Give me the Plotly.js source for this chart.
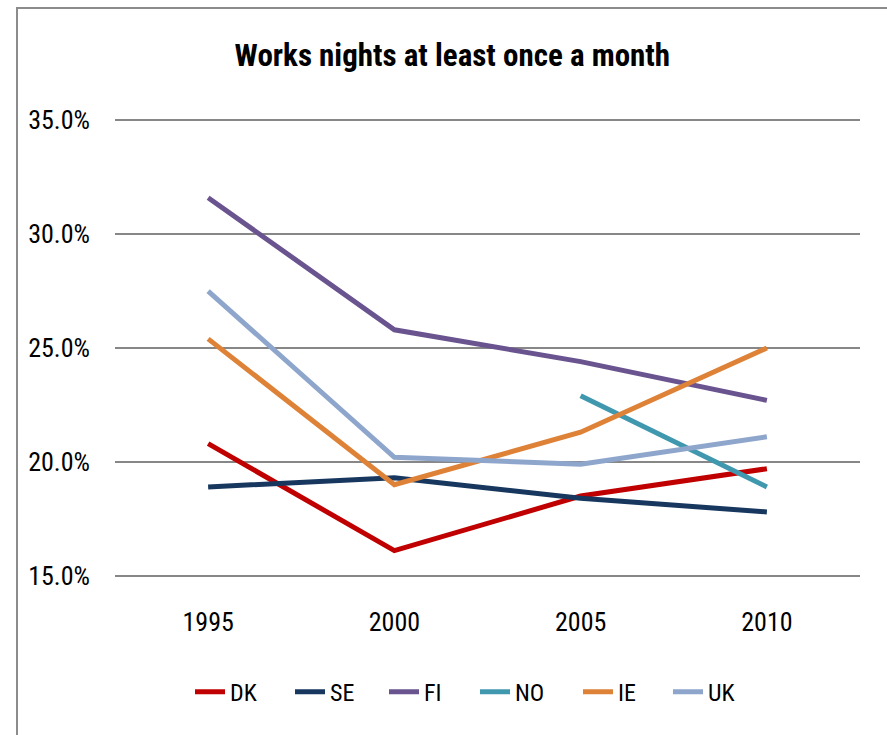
<!DOCTYPE html>
<html>
<head>
<meta charset="utf-8">
<script src="https://cdn.plot.ly/plotly-3.0.1.min.js"></script>
<style>
  html, body { margin: 0; padding: 0; background: #ffffff; }
  #chart { width: 887px; height: 735px; }
</style>
</head>
<body>
<div id="chart"></div>
<script>
// Survey years
const years = ['1995', '2000', '2005', '2010'];

// Share of workers working nights at least once a month (%)
const dk = [20.8, 16.1, 18.5, 19.7];
const se = [18.9, 19.3, 18.4, 17.8];
const fi = [31.6, 25.8, 24.4, 22.7];
const no = [null, null, 22.9, 18.9];
const ie = [25.4, 19.0, 21.3, 25.0];
const uk = [27.5, 20.2, 19.9, 21.1];

const countries = ['DK', 'SE', 'FI', 'NO', 'IE', 'UK'];
const colors = ['#C00000', '#17375E', '#6A548F', '#4098AF', '#DE8238', '#8EA6CC'];
const values = [dk, se, fi, no, ie, uk];
// room reserved for each legend label
const legendWidths = [55, 49, 46, 58, 45, 30];

const FONT = '"Roboto Condensed", "Liberation Sans Narrow", "Arial Narrow", "Liberation Sans", sans-serif';

const traces = countries.map((c, i) => ({
  type: 'scatter',
  mode: 'lines',
  name: c,
  x: years,
  y: values[i].map(v => v === null ? null : v / 100),
  connectgaps: false,
  line: { color: colors[i], width: 5 },
  legendwidth: legendWidths[i],
  hoverinfo: 'name+y'
}));

const layout = {
  width: 887,
  height: 735,
  paper_bgcolor: '#ffffff',
  plot_bgcolor: '#ffffff',
  margin: { l: 115, r: 27, t: 118, b: 157 },
  title: {
    text: '<b>Works nights at least once a month</b>',
    font: { family: FONT, size: 31, color: '#000000' },
    x: 0.51,
    xanchor: 'center',
    y: 0.925,
    yanchor: 'middle'
  },
  xaxis: {
    type: 'category',
    range: [-0.5, 3.5],
    showgrid: false,
    zeroline: false,
    showline: false,
    ticks: '',
    ticklabelstandoff: 26,
    tickfont: { family: FONT, size: 26, color: '#000000' }
  },
  yaxis: {
    range: [0.149, 0.351],
    dtick: 0.05,
    tick0: 0.15,
    tickformat: '.1%',
    showgrid: true,
    gridcolor: '#878787',
    gridwidth: 2,
    zeroline: false,
    showline: false,
    ticks: '',
    ticklabelstandoff: 24,
    tickfont: { family: FONT, size: 26, color: '#000000' }
  },
  legend: {
    orientation: 'h',
    x: (190 - 115) / 745,
    xanchor: 'left',
    y: -0.248,
    yanchor: 'middle',
    font: { family: FONT, size: 24, color: '#000000' },
    itemwidth: 30,
    tracegroupgap: 0
  },
  shapes: [{
    type: 'rect',
    xref: 'paper', yref: 'paper',
    x0: (17 - 115) / 745, x1: 1.3,
    y0: -0.5, y1: (578 - 8) / 460,
    line: { color: '#8C8C8C', width: 2 },
    fillcolor: 'rgba(0,0,0,0)',
    layer: 'below'
  }],
  showlegend: true
};

Plotly.newPlot('chart', traces, layout, { displayModeBar: false, staticPlot: true });
</script>
</body>
</html>
